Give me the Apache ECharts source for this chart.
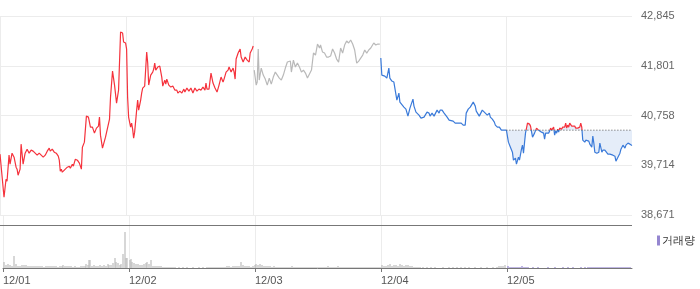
<!DOCTYPE html>
<html>
<head>
<meta charset="utf-8">
<script src="https://cdn.jsdelivr.net/npm/echarts@6/dist/echarts.min.js"></script>
<style>html,body{margin:0;padding:0;background:#fff}#c{width:700px;height:289px}</style>
</head>
<body>
<div id="c"></div>
<script>
// x = time slot (each trading day spans 126 slots)
const dayLabels = ['12/01', '12/02', '12/03', '12/04', '12/05'];
const dayStarts = [0, 126, 252, 378, 504];
const priceTicks = [38671, 39714, 40758, 41801, 42845];
const prevClose = 40450;

const day1 = [[0,39947],[4,39044],[6,39422],[7,39380],[9,39926],[10,39737],[12,39968],[14,39884],[16,39674],[17,39632],[18,39506],[20,39632],[21,40157],[23,39737],[25,39968],[27,40052],[29,39968],[31,40031],[33,40010],[35,39968],[37,39926],[39,39968],[41,39926],[43,39884],[45,39926],[47,40010],[49,40073],[50,40010],[52,40052],[54,39989],[56,39968],[58,39905],[59,39821],[60,39590],[61,39632],[62,39569],[63,39548],[65,39632],[67,39674],[69,39695],[70,39653],[72,39737],[73,39695],[75,39842],[77,39821],[79,39758],[81,39632],[82,40094],[84,40199],[86,40745],[88,40724],[90,40514],[92,40514],[94,40388],[96,40493],[98,40535],[99,40724],[100,40346],[102,40073],[105,40304],[107,40493],[109,40682],[110,41144],[112,41690],[114,41396],[116,41018],[118,41291],[120,42509],[122,42488],[123,42299],[125,42278],[126,42152]];
const day2 = [[127,41144],[128,40724],[130,40514],[131,40598],[132,40472],[133,40283],[134,40409],[136,40871],[137,41081],[138,40871],[140,41081],[141,41228],[142,41333],[144,41375],[146,42089],[147,41858],[148,41396],[150,41606],[152,41669],[153,41732],[154,41858],[155,41711],[157,41774],[158,41753],[159,41795],[160,41774],[161,41564],[162,41375],[164,41501],[165,41417],[166,41522],[168,41396],[170,41354],[172,41375],[174,41291],[176,41291],[177,41228],[179,41270],[181,41228],[183,41312],[184,41249],[186,41333],[188,41270],[190,41333],[192,41228],[194,41333],[196,41270],[198,41312],[200,41291],[202,41354],[204,41291],[205,41438],[206,41312],[208,41312],[210,41648],[212,41438],[214,41333],[216,41249],[218,41396],[220,41564],[222,41459],[223,41522],[225,41669],[227,41711],[228,41774],[230,41669],[232,41753],[233,41669],[234,41522],[235,41942],[237,42068],[239,42152],[240,41984],[242,41879],[244,41984],[246,41921],[248,41879],[249,42068],[251,42152],[252,42215]];
const day3 = [[253,41711],[255,41396],[256,41459],[257,42152],[258,41501],[260,41753],[262,41606],[264,41522],[266,41396],[268,41543],[270,41417],[272,41564],[274,41669],[276,41606],[278,41543],[280,41501],[282,41606],[284,41753],[286,41879],[289,41900],[290,41669],[292,41921],[294,41774],[296,41858],[298,41774],[300,41669],[302,41711],[304,41648],[306,41543],[308,41627],[310,41711],[312,42068],[314,42026],[316,42257],[318,42173],[319,42236],[321,42089],[323,42068],[325,41984],[327,41984],[329,42005],[331,42152],[333,42068],[335,41942],[337,41879],[339,42173],[341,42068],[343,42236],[345,42320],[347,42278],[349,42341],[351,42257],[353,42131],[355,41858],[357,41900],[359,41963],[361,42026],[363,42131],[365,42068],[367,42131],[369,42173],[372,42278],[374,42236],[376,42257],[378,42257]];
const day4 = [[379,41963],[380,41606],[383,41585],[385,41543],[387,41753],[388,41543],[390,41480],[392,41459],[393,41438],[395,41081],[397,41228],[398,41039],[402,40934],[404,40892],[406,40745],[408,40913],[409,40976],[411,41102],[412,40955],[414,40829],[417,40766],[419,40703],[422,40724],[423,40703],[425,40829],[427,40808],[428,40745],[430,40808],[432,40745],[433,40745],[435,40871],[437,40808],[438,40871],[440,40871],[442,40808],[443,40787],[445,40724],[447,40661],[448,40640],[451,40640],[453,40598],[457,40598],[459,40598],[461,40556],[463,40556],[464,40808],[466,40892],[468,40934],[471,41039],[473,40955],[474,40850],[477,40745],[478,40787],[480,40871],[482,40829],[483,40850],[485,40766],[487,40808],[488,40724],[490,40682],[492,40619],[493,40556],[495,40514],[497,40514],[499,40450],[504,40450]];
const day5 = [[504,40450],[505,40409],[506,40199],[508,40094],[510,39989],[511,39821],[512,39800],[513,39863],[514,39737],[516,39884],[517,39821],[519,40052],[520,40136],[521,39968],[522,40178],[523,40388],[525,40598],[527,40577],[528,40535],[529,40535],[530,40304],[532,40388],[533,40409],[534,40493],[536,40451],[537,40430],[539,40409],[541,40388],[542,40262],[543,40388],[544,40388],[546,40388],[547,40430],[548,40493],[549,40451],[551,40514],[552,40346],[553,40430],[554,40388],[555,40472],[556,40409],[557,40493],[559,40472],[560,40514],[562,40514],[563,40598],[564,40493],[565,40556],[566,40514],[567,40598],[569,40535],[570,40514],[572,40535],[573,40493],[575,40493],[577,40514],[578,40598],[579,40514],[580,40241],[582,40199],[583,40241],[586,40220],[587,40157],[589,40094],[590,40325],[591,40178],[592,39989],[594,39968],[596,39989],[597,40178],[599,39989],[600,40031],[602,40031],[603,40052],[605,39947],[607,39947],[608,39926],[610,39926],[612,39905],[613,39800],[615,39884],[617,39968],[618,40052],[620,40136],[622,40073],[623,40136],[625,40178],[627,40157],[629,40130]];

// volume (thousand shares)
const volPast = [[1,6],[3,3],[5,4],[7,3],[9,2],[11,12],[13,4],[15,2],[17,2],[19,3],[21,3],[23,3],[25,2],[27,2],[29,2],[31,2],[33,2],[35,2],[37,2],[39,2],[41,1],[43,2],[45,2],[47,2],[49,2],[51,2],[53,2],[55,1],[57,2],[59,2],[60,3],[62,2],[64,2],[66,2],[68,2],[70,1],[72,2],[74,1],[76,1],[78,2],[80,2],[82,2],[83,4],[85,3],[86,8],[87,8],[89,2],[91,3],[93,2],[95,2],[97,3],[99,2],[101,3],[103,2],[105,4],[106,3],[108,3],[110,5],[112,10],[113,6],[115,5],[117,3],[118,4],[120,14],[122,36],[123,10],[124,10],
[127,8],[128,9],[129,6],[131,5],[133,4],[135,4],[137,3],[139,3],[141,4],[143,5],[144,6],[146,4],[148,8],[150,2],[152,2],[154,2],[156,2],[158,2],[160,1],[162,1],[164,1],[166,1],[168,1],[170,1],[172,1],[176,1],[180,1],[184,1],[190,1],[196,1],[200,1],[204,1],[206,1],[208,1],[210,1],[212,1],[214,1],[216,1],[218,1],[220,1],[222,1],[224,2],[226,2],[228,1],[230,2],[232,2],[234,2],[236,2],[238,6],[240,3],[242,2],[244,2],[246,2],[248,1],[250,2],
[252,3],[253,4],[255,3],[257,4],[259,3],[261,2],[263,2],[265,2],[267,2],[269,1],[271,2],[273,1],[275,1],[277,1],[279,1],[281,1],[283,1],[285,1],[287,1],[289,2],[291,1],[293,1],[295,1],[297,1],[299,1],[301,1],[303,1],[305,1],[307,1],[309,1],[311,1],[313,1],[315,1],[317,1],[319,1],[321,1],[323,1],[325,2],[327,1],[329,1],[331,1],[333,1],[335,2],[337,1],[339,1],[341,1],[343,1],[345,1],[347,1],[349,1],[351,1],[353,1],[355,1],[357,1],[359,1],[361,1],[363,1],[365,1],[367,1],[369,1],[371,1],[373,1],[375,1],[377,1],
[379,3],[381,2],[383,2],[385,3],[387,4],[389,2],[391,3],[393,3],[395,2],[397,4],[399,3],[401,2],[403,3],[405,3],[407,2],[409,2],[411,1],[413,1],[415,1],[417,1],[420,1],[424,1],[428,1],[432,1],[440,1],[446,1],[450,1],[454,1],[458,1],[462,1],[466,1],[472,1],[478,1],[484,1],[490,1],[494,1],[496,2],[498,2],[500,2],[502,3]];
const volToday = [[505,2],[507,1],[509,1],[511,1],[513,1],[515,1],[517,1],[519,2],[521,1],[523,1],[525,1],[530,1],[535,1],[545,1],[552,1],[560,1],[565,1],[570,1],[578,1],[582,1],[585,1],[587,1],[589,1],[591,1],[593,1],[595,1],[597,1],[599,1],[601,1],[603,1],[605,1],[607,1],[609,1],[611,1],[613,1],[615,1],[617,1],[619,1],[621,1],[623,1],[625,1],[627,1]];

const RED = '#f5323c', BLUE = '#3a7ad9', GRAY = '#b9b9b9';
const gridColor = '#ececec';
const font = 'Liberation Sans, Arial, sans-serif';

const chart = echarts.init(document.getElementById('c'), null, {renderer: 'canvas'});
const xBase = {
  type: 'value', min: 0, max: 629, interval: 126,
  splitLine: {show: true, lineStyle: {color: gridColor, width: 1}}
};
chart.setOption({
  animation: false,
  textStyle: {fontFamily: font},
  grid: [
    {left: 0, right: 68, top: 16, height: 199},
    {left: 0, right: 68, top: 215, height: 53}
  ],
  xAxis: [
    Object.assign({}, xBase, {gridIndex: 0, axisLine: {show: false},
      axisTick: {show: false, customValues: dayStarts}, axisLabel: {show: false}}),
    Object.assign({}, xBase, {
      gridIndex: 1,
      axisLine: {show: true, lineStyle: {color: '#777', width: 1}},
      axisTick: {show: true, length: 4, lineStyle: {color: '#777'}, customValues: dayStarts},
      axisLabel: {
        show: true, align: 'left', margin: 7, color: '#555', fontSize: 11, fontFamily: font,
        customValues: dayStarts,
        formatter: v => dayLabels[dayStarts.indexOf(Math.round(v))] || ''
      }
    })
  ],
  yAxis: [
    {
      gridIndex: 0, type: 'value', position: 'right',
      min: priceTicks[0], max: priceTicks[priceTicks.length - 1],
      interval: (priceTicks[priceTicks.length - 1] - priceTicks[0]) / (priceTicks.length - 1),
      axisLine: {show: false}, axisTick: {show: false},
      splitLine: {show: true, lineStyle: {color: gridColor}},
      axisLabel: {
        margin: 9, color: '#666', fontSize: 11, fontFamily: font,
        formatter: v => Math.floor(v + 0.01).toLocaleString('en-US')
      }
    },
    {gridIndex: 1, type: 'value', min: 0, max: 53, show: false, splitLine: {show: false}}
  ],
  legend: {
    data: ['거래량'], left: 652, top: 230, icon: 'rect', itemWidth: 3, itemHeight: 10,
    textStyle: {color: '#333', fontSize: 11, fontFamily: font, padding: [0, 0, 0, -3]},
    selectedMode: false
  },
  visualMap: {
    show: false, type: 'piecewise', seriesIndex: 3, dimension: 1,
    pieces: [
      {gt: prevClose, lte: 60000, color: RED},
      {gte: 20000, lte: prevClose, color: BLUE}
    ]
  },
  graphic: [{
    type: 'line', shape: {x1: 0, y1: 225.5, x2: 632, y2: 225.5},
    style: {stroke: '#777', lineWidth: 1}, z: 10
  }],
  series: [
    {type: 'line', data: day1.concat(day2), xAxisIndex: 0, yAxisIndex: 0, symbol: 'none',
     lineStyle: {color: RED, width: 1.2}, itemStyle: {color: RED}},
    {type: 'line', data: day3, xAxisIndex: 0, yAxisIndex: 0, symbol: 'none',
     lineStyle: {color: GRAY, width: 1.2}, itemStyle: {color: GRAY}},
    {type: 'line', data: day4, xAxisIndex: 0, yAxisIndex: 0, symbol: 'none',
     lineStyle: {color: BLUE, width: 1.2}, itemStyle: {color: BLUE}},
    {type: 'line', data: day5, xAxisIndex: 0, yAxisIndex: 0, symbol: 'none', z: 3,
     lineStyle: {width: 1.2}},
    {type: 'line', data: day5, xAxisIndex: 0, yAxisIndex: 0, symbol: 'none', z: 1,
     lineStyle: {width: 0, opacity: 0}, itemStyle: {color: '#e5edf9'},
     areaStyle: {origin: prevClose, color: '#e5edf9', opacity: 1}},
    {type: 'line', data: [[504, prevClose], [629, prevClose]], xAxisIndex: 0, yAxisIndex: 0,
     symbol: 'none', z: 4, lineStyle: {color: '#555', width: 1, type: [1, 2]}},
    {type: 'bar', name: 'pastVol', data: volPast, xAxisIndex: 1, yAxisIndex: 1,
     barWidth: 1.2, itemStyle: {color: '#bcbcbc'}},
    {type: 'bar', name: '거래량', data: volToday, xAxisIndex: 1, yAxisIndex: 1,
     barWidth: 1.2, barGap: '-100%', itemStyle: {color: '#9586d0'}}
  ]
});
</script>
</body>
</html>
